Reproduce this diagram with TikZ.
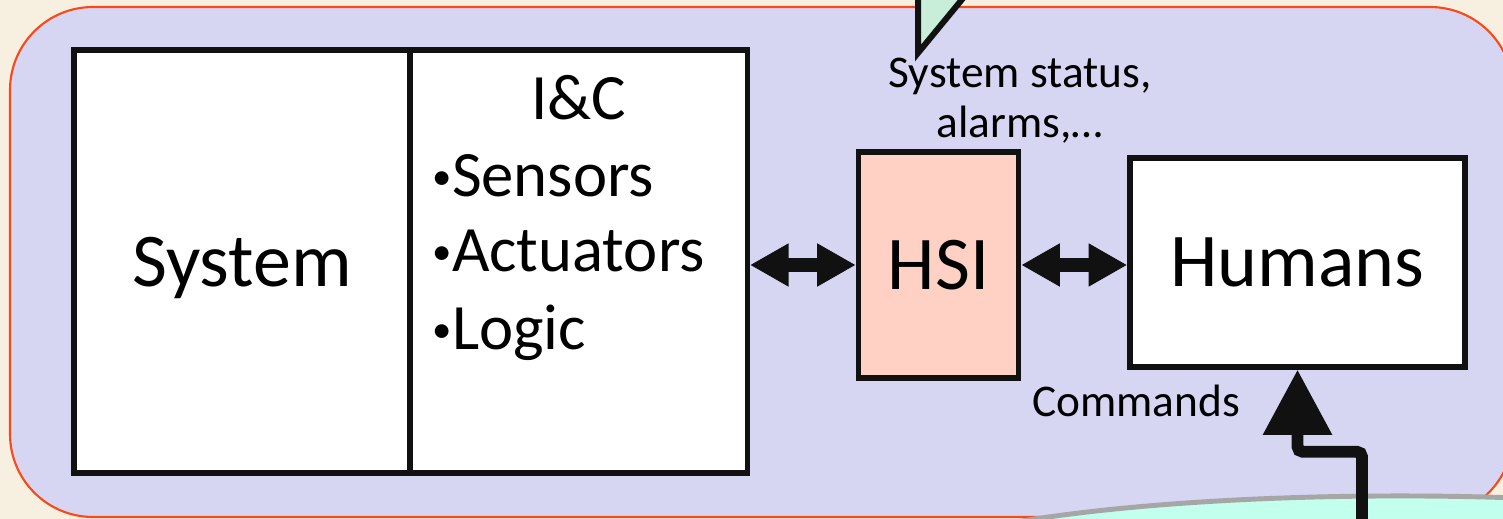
\documentclass[tikz,border=0pt]{standalone}
\usepackage{fontspec}
\setmainfont{Carlito}
\usetikzlibrary{positioning,arrows.meta,shapes.geometric}
\definecolor{PageCream}{RGB}{247,240,225}
\definecolor{PanelLilac}{RGB}{214,214,243}
\definecolor{EdgeOrange}{RGB}{250,72,24}
\definecolor{HsiPink}{RGB}{255,208,196}
\definecolor{BubbleGreen}{RGB}{200,237,217}
\definecolor{CrewCyan}{RGB}{194,255,236}
\definecolor{CrewGray}{RGB}{166,166,166}
\definecolor{InkBlack}{RGB}{17,17,17}
\newcommand{\smallbullet}{\raisebox{0.12em}{\scalebox{0.6}{•}}}
\tikzset{
  block/.style={draw=InkBlack,line width=1.5pt,fill=white,
    font=\fontsize{21.6}{22}\selectfont},
  hsibox/.style={block,fill=HsiPink},
  listtext/.style={font=\fontsize{18.4}{20}\selectfont,inner sep=0pt},
  smalltext/.style={font=\fontsize{12.9}{14.2}\selectfont,inner sep=0pt,align=center},
  biflow/.style={{Triangle[length=11pt,width=11.5pt]}-{Triangle[length=11pt,width=11.5pt]},
    line width=3.8pt,draw=InkBlack},
  cmdflow/.style={-{Triangle[length=18.5pt,width=18.8pt]},line width=3.4pt,
    draw=InkBlack,rounded corners=1.5pt},
  crewshape/.style={ellipse,draw=CrewGray,line width=1.4pt,fill=CrewCyan,
    minimum width=10.4cm,minimum height=1.6cm}
}

\begin{document}
\begin{tikzpicture}[x=0.01cm,y=-0.01cm]
  \useasboundingbox[fill=PageCream] (0,0) rectangle (1503,519);
  \clip (0,0) rectangle (1503,519);
  % panel and the tail of the bubble above it
  \draw[fill=PanelLilac,draw=EdgeOrange,line width=0.6pt,rounded corners=0.83cm]
    (10,7) rectangle (1513,517);
  \draw[fill=BubbleGreen,draw=InkBlack,line width=1.7pt] (918,-20) -- (918,53) -- (978,-20);

  \node[block,text depth=0pt,minimum width=3.36cm,minimum height=4.23cm] (system) at (242,261.5) {System};
  \node[block,minimum width=3.37cm,minimum height=4.23cm,right=-1.5pt of system] (ic) {};
  \node[listtext,anchor=base] (ictitle) at (579,120) {I\&C};
  \foreach \part/\yy in {Sensors/197,Actuators/272,Logic/350}
    \node[listtext,anchor=base west] (ic-\part) at (432,\yy) {\smallbullet\part};

  \node[hsibox,minimum width=1.6cm,minimum height=2.26cm] (hsi) at (938.5,265) {HSI};
  \node[block,minimum width=3.35cm,minimum height=2.09cm] (humans) at (1297.5,262.5) {Humans};
  \node[smalltext] (status) at (1020,101) {System status,\\alarms,…};
  \node[smalltext,anchor=base] (commands) at (1136,417) {Commands};

  \draw[biflow] (hsi.west -| ic.east) -- (hsi.west);
  \draw[biflow] (hsi.east) -- (hsi.east -| humans.west);

  % crew below, sending commands up
  \node[crewshape] (crew) at (1400,576) {};
  \coordinate (cmdstart) at (1362,540);
  \draw[cmdflow] (cmdstart) |- ([yshift=-0.82cm]humans.south) -- (humans.south);
\end{tikzpicture}
\end{document}
